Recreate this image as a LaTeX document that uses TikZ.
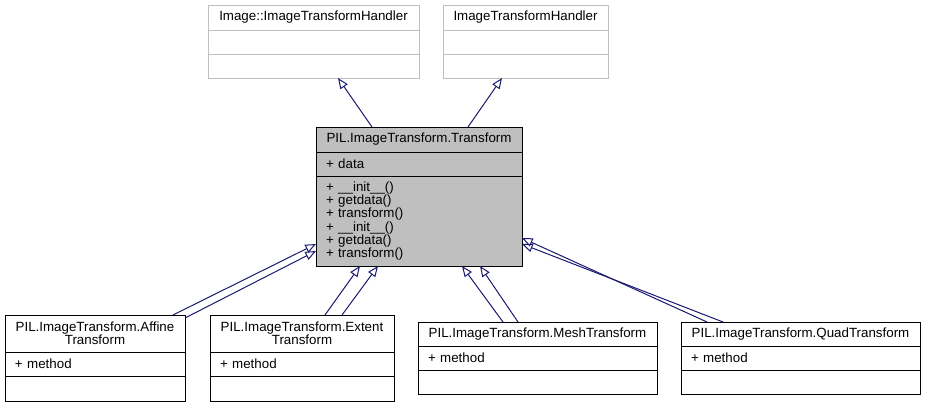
\documentclass[tikz,border=0pt]{standalone}
\usepackage{fontspec}
\setmainfont{Liberation Sans}
\usepackage{xcolor}
\usetikzlibrary{positioning,arrows.meta}
\definecolor{grey75}{HTML}{BFBFBF}
\definecolor{midnightblue}{HTML}{191970}
\tikzset{
  box/.style={draw, outer sep=0pt, inner ysep=0pt, line width=0.75pt, font=\fontsize{10pt}{10pt}\selectfont},
  head/.style 2 args={box, align=center, inner xsep=4pt, text width=#1, minimum height=#2},
  memb/.style 2 args={box, align=left, inner xsep=7.5pt, text width=#1, minimum height=#2},
  inherit/.style={draw=midnightblue, line width=0.75pt, -{Triangle[open, length=8pt, width=6.5pt]}},
}
\begin{document}
\begin{tikzpicture}[x=0.75pt,y=0.75pt,yscale=-1,xscale=1]
\useasboundingbox (0,0) rectangle (926,407);

%Class Image::ImageTransformHandler
    \node[head={150.25pt}{18.75pt}, draw=grey75, anchor=north west] (hdlAT) at (208,5) {Image::ImageTransformHandler};
    \node[memb={143.25pt}{18pt}, draw=grey75, below=0pt of hdlAT] (hdlAA) {};
    \node[memb={143.25pt}{18pt}, draw=grey75, below=0pt of hdlAA] (hdlAM) {};
%Class ImageTransformHandler
    \node[head={115.75pt}{18.75pt}, draw=grey75, anchor=north west] (hdlBT) at (443,5) {ImageTransformHandler};
    \node[memb={108.75pt}{18pt}, draw=grey75, below=0pt of hdlBT] (hdlBA) {};
    \node[memb={108.75pt}{18pt}, draw=grey75, below=0pt of hdlBA] (hdlBM) {};
%Class PIL.ImageTransform.Transform
    \node[head={146.5pt}{18.75pt}, fill=grey75, anchor=north west] (trT) at (316,127) {PIL.ImageTransform.Transform};
    \node[memb={139.5pt}{18pt}, fill=grey75, below=0pt of trT] (trA) {+ data};
    \node[memb={139.5pt}{67.5pt}, fill=grey75, below=0pt of trA] (trM) {+ \_\_init\_\_()\\+ getdata()\\+ transform()\\+ \_\_init\_\_()\\+ getdata()\\+ transform()};
%Class PIL.ImageTransform.AffineTransform
    \node[head={127pt}{27.75pt}, anchor=north west] (affT) at (5,315) {PIL.ImageTransform.Affine\\Transform};
    \node[memb={120pt}{18pt}, below=0pt of affT] (affA) {+ method};
    \node[memb={120pt}{18.75pt}, below=0pt of affA] (affM) {};
%Class PIL.ImageTransform.ExtentTransform
    \node[head={130pt}{27.75pt}, anchor=north west] (extT) at (210,315) {PIL.ImageTransform.Extent\\Transform};
    \node[memb={123pt}{18pt}, below=0pt of extT] (extA) {+ method};
    \node[memb={123pt}{18.75pt}, below=0pt of extA] (extM) {};
%Class PIL.ImageTransform.MeshTransform
    \node[head={171.25pt}{18pt}, anchor=north west] (meshT) at (418,322) {PIL.ImageTransform.MeshTransform};
    \node[memb={164.25pt}{18pt}, below=0pt of meshT] (meshA) {+ method};
    \node[memb={164.25pt}{18pt}, below=0pt of meshA] (meshM) {};
%Class PIL.ImageTransform.QuadTransform
    \node[head={171.25pt}{18pt}, anchor=north west] (quadT) at (681,322) {PIL.ImageTransform.QuadTransform};
    \node[memb={164.25pt}{18pt}, below=0pt of quadT] (quadA) {+ method};
    \node[memb={164.25pt}{18pt}, below=0pt of quadA] (quadM) {};

%Inheritance Arrows
    \draw[inherit] ([shift={(56,0)}]trT.north west) -- ([shift={(130,0)}]hdlAM.south west);
    \draw[inherit] ([shift={(152,0)}]trT.north west) -- ([shift={(59,0)}]hdlBM.south west);
    \draw[inherit] ([shift={(168,0)}]affT.north west) -- ([shift={(0,68)}]trM.north west);
    \draw[inherit] ([shift={(0,3)}]affT.north east) -- ([shift={(0,75)}]trM.north west);
    \draw[inherit] ([shift={(115,0)}]extT.north west) -- ([shift={(44,0)}]trM.south west);
    \draw[inherit] ([shift={(132,0)}]extT.north west) -- ([shift={(62,0)}]trM.south west);
    \draw[inherit] ([shift={(85,0)}]meshT.north west) -- ([shift={(146,0)}]trM.south west);
    \draw[inherit] ([shift={(100,0)}]meshT.north west) -- ([shift={(164,0)}]trM.south west);
    \draw[inherit] ([shift={(26,0)}]quadT.north west) -- ([shift={(0,62)}]trM.north east);
    \draw[inherit] ([shift={(42,0)}]quadT.north west) -- ([shift={(0,68)}]trM.north east);

\end{tikzpicture}
\end{document}
